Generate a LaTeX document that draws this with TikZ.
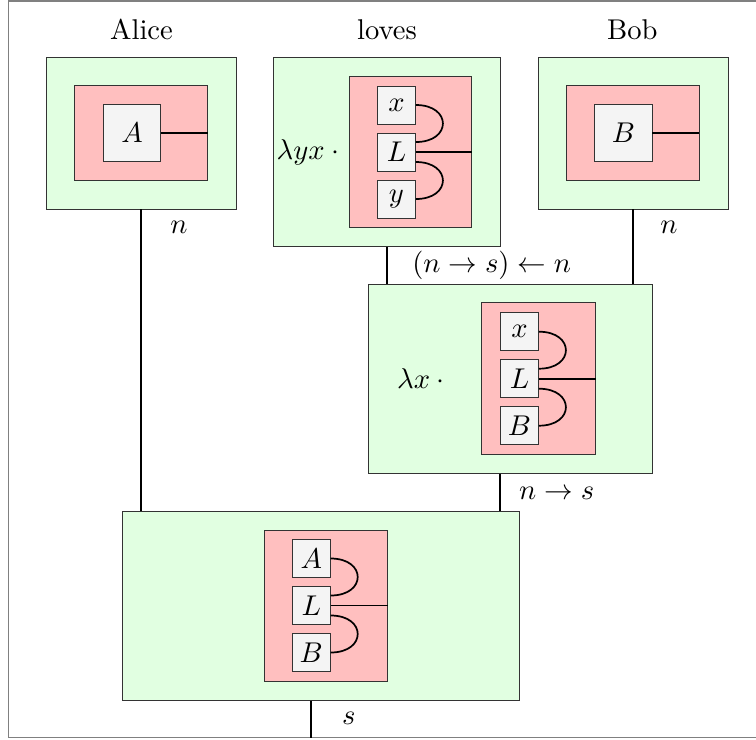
\documentclass[tikz,border=0pt]{standalone}
\usepackage{amsmath,amssymb}
\usepackage{tikz}
\usetikzlibrary{positioning}
\usepackage{xcolor}
\definecolor{termgreen}{HTML}{E1FFE1}
\definecolor{termpink}{HTML}{FFBFBF}
\definecolor{wordgrey}{HTML}{F4F4F4}
\tikzstyle{outerbox} = [draw=black!80, line width=0.3pt, fill=termgreen, rectangle, inner sep=0pt]
\tikzstyle{innerbox} = [draw=black!80, line width=0.3pt, fill=termpink, rectangle, inner sep=0pt]
\tikzstyle{wordbox} = [draw=black!80, line width=0.3pt, fill=wordgrey, rectangle, inner sep=0pt, minimum size=20pt]
\tikzstyle{letterbox} = [draw=black!80, line width=0.3pt, fill=wordgrey, rectangle, inner sep=0pt, minimum size=13.3pt]
\tikzstyle{wire} = [semithick, black]

\begin{document}
\begin{tikzpicture}[x=0.35pt, y=-0.35pt]
\useasboundingbox (0,0) rectangle (756,740);
\draw[gray] (8.5,1) rectangle (770,737.5);

% the words
\node (alicetxt) at (141.5,29.5) {Alice};
\node (lovestxt) at (387,29.5) {loves};
\node (bobtxt) at (632.4,29.5) {Bob};

% Alice
\node[outerbox, minimum width=66.5pt, minimum height=53.2pt] (alice) at (141.3,133) {};
\node[innerbox, minimum width=46.4pt, minimum height=33.25pt] (alicein) at (141,132.5) {};
\node[wordbox] (A) at (132.2,132.7) {$A$};
\draw[wire] (A.east) -- (A.east -| alicein.east);

% Bob
\node[outerbox, minimum width=66.5pt, minimum height=53.2pt] (bob) at (633,133) {};
\node[innerbox, minimum width=46.4pt, minimum height=33.25pt] (bobin) at (632.7,132.5) {};
\node[wordbox] (B) at (623.5,132.7) {$B$};
\draw[wire] (B.east) -- (B.east -| bobin.east);

% loves
\node[outerbox, minimum width=79.5pt, minimum height=66.3pt] (loves) at (387,152) {};
\node[innerbox, minimum width=43pt, minimum height=53pt] (lovesin) at (410.5,152) {};
\node[letterbox] (lovesL) at (396.5,152) {$L$};
\node[letterbox, above=2.85pt of lovesL] (lovesx) {$x$};
\node[letterbox, below=2.85pt of lovesL] (lovesy) {$y$};
\node (loveslam) at (311,152) {$\lambda yx\cdot{}$};
\draw[wire] (lovesL.east) -- (lovesL.east -| lovesin.east);
\draw[wire] (lovesx.east) .. controls +(12.6pt,0) and +(12.6pt,0) .. ([yshift=3.5pt]lovesL.east);
\draw[wire] ([yshift=-3.5pt]lovesL.east) .. controls +(12.6pt,0) and +(12.6pt,0) .. (lovesy.east);

% loves Bob
\node[outerbox, minimum width=99.4pt, minimum height=66.3pt] (mid) at (510,378.7) {};
\node[innerbox, minimum width=39.9pt, minimum height=53pt] (midin) at (538.3,378.5) {};
\node[letterbox] (midL) at (519.5,378.7) {$L$};
\node[letterbox, above=2.85pt of midL] (midx) {$x$};
\node[letterbox, below=2.85pt of midL] (midB) {$B$};
\node (midlam) at (424,379) {$\lambda x\cdot{}$};
\draw[wire] (midL.east) -- (midL.east -| midin.east);
\draw[wire] (midx.east) .. controls +(12.6pt,0) and +(12.6pt,0) .. ([yshift=3.5pt]midL.east);
\draw[wire] ([yshift=-3.5pt]midL.east) .. controls +(12.6pt,0) and +(12.6pt,0) .. (midB.east);

% Alice loves Bob
\node[outerbox, minimum width=139pt, minimum height=66.2pt] (sent) at (320.8,605.5) {};
\node[innerbox, minimum width=43.2pt, minimum height=53.1pt] (sentin) at (325.7,605.8) {};
\node[letterbox] (sentL) at (311.3,605.5) {$L$};
\node[letterbox, above=2.85pt of sentL] (sentA) {$A$};
\node[letterbox, below=2.85pt of sentL] (sentB) {$B$};
\draw[wire] (sentL.east) -- (sentL.east -| sentin.east);
\draw[wire] (sentA.east) .. controls +(12.6pt,0) and +(12.6pt,0) .. ([yshift=3.5pt]sentL.east);
\draw[wire] ([yshift=-3.5pt]sentL.east) .. controls +(12.6pt,0) and +(12.6pt,0) .. (sentB.east);

% wires and types
\coordinate (midport) at ([xshift=-3.4pt]mid.south);
\coordinate (sentout) at (311.3,737.5);
\draw[wire] (alice.south) -- (alice.south |- sent.north);
\draw[wire] (loves.south) -- (loves.south |- mid.north);
\draw[wire] (bob.south) -- (bob.south |- mid.north);
\draw[wire] (midport) -- (midport |- sent.north);
\draw[wire] (sentL |- sent.south) -- (sentout);
\node (alicetype) at (179,227) {$n$};
\node (bobtype) at (669,227) {$n$};
\node (lovestype) at (491.7,265.8) {$(n\to s)\leftarrow n$};
\node (midtype) at (556.7,493) {$n\to s$};
\node (senttype) at (348.8,718.5) {$s$};
\end{tikzpicture}
\end{document}
